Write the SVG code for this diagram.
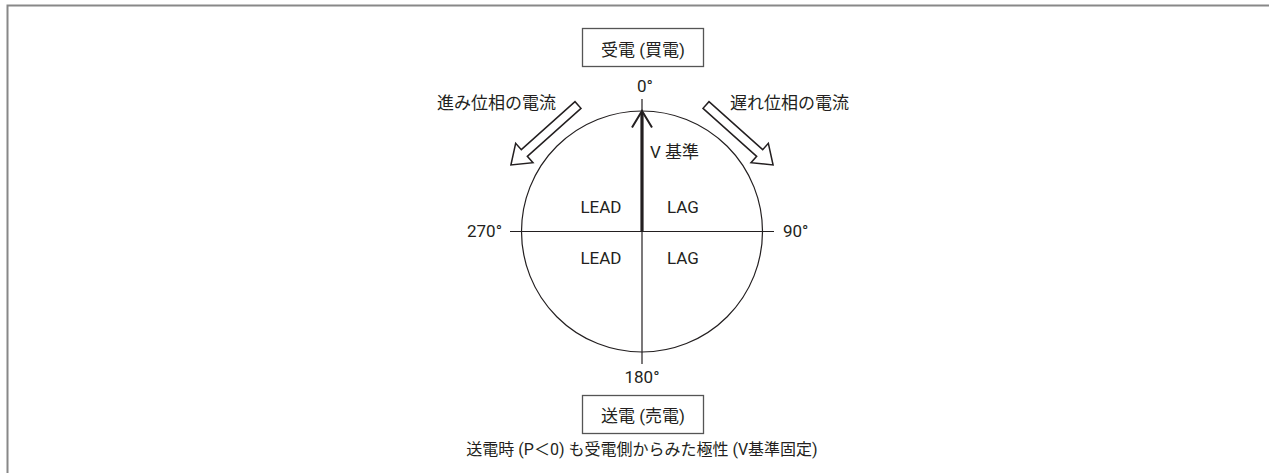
<svg xmlns="http://www.w3.org/2000/svg" width="1269" height="473" viewBox="0 0 1269 473">
<style>
.t{font-family:Roboto,"Noto Sans CJK JP",sans-serif;font-size:17px;fill:#231f20}
.c{text-anchor:middle}
.box{fill:#fff;stroke:#555;stroke-width:1.3}
.ln{stroke:#231f20;stroke-width:1.2;fill:none}
.blk{fill:#fff;stroke:#231f20;stroke-width:1.5;stroke-linejoin:miter}
</style>
<defs>
<polygon id="blockArrow" points="0,-4.5 72,-4.5 72,-13 90,0 72,13 72,4.5 0,4.5"/>
</defs>
<rect width="1269" height="473" fill="#fff"/>
<path d="M7.5,480 V5.5 H1280" fill="none" stroke="#888" stroke-width="2"/>
<g id="connectors">
<circle cx="642" cy="231.5" r="120.5" class="ln" stroke-width="1"/>
<line x1="510" y1="231.5" x2="774" y2="231.5" class="ln"/>
<line x1="642" y1="99" x2="642" y2="364" class="ln"/>
<line x1="642" y1="231.5" x2="642" y2="113" stroke="#231f20" stroke-width="3.2"/>
<polyline points="632,127.5 642,111 652,127.5" fill="none" stroke="#231f20" stroke-width="2"/>
<use href="#blockArrow" class="blk" transform="translate(706,105) rotate(41.8)"/>
<use href="#blockArrow" class="blk" transform="translate(578,105) rotate(138.2)"/>
</g>
<g id="node-receive">
<rect x="582.5" y="28.5" width="121" height="38" class="box"/>
<text x="643" y="56" class="t c">受電 (買電)</text>
</g>
<g id="node-send">
<rect x="582.5" y="395.5" width="121" height="38" class="box"/>
<text x="643" y="422" class="t c">送電 (売電)</text>
</g>
<g id="labels">
<text x="645" y="92" class="t c">0°</text>
<text x="642" y="383" class="t c">180°</text>
<text x="502" y="237" class="t" text-anchor="end">270°</text>
<text x="783" y="237" class="t">90°</text>
<text x="601" y="213" class="t c">LEAD</text>
<text x="683" y="213" class="t c">LAG</text>
<text x="601" y="264" class="t c">LEAD</text>
<text x="683" y="264" class="t c">LAG</text>
<text x="650" y="158" class="t">V 基準</text>
<text x="437" y="109" class="t">進み位相の電流</text>
<text x="730" y="109" class="t">遅れ位相の電流</text>
<text x="642" y="455" class="t c" style="font-size:16px">送電時 (P＜0) も受電側からみた極性 (V基準固定)</text>
</g>
</svg>
